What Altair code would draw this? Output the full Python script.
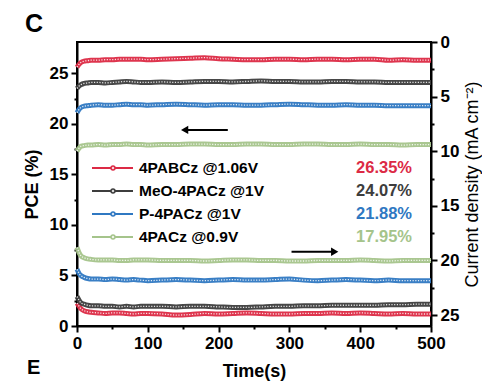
import altair as alt
import pandas as pd

# ---------------- data ----------------
time_s = [0, 3, 6, 10, 15, 20, 30, 40, 50, 60, 70, 80, 90, 100,
          120, 140, 160, 180, 200, 220, 240, 260, 280, 300,
          320, 340, 360, 380, 400, 420, 440, 460, 480, 500]

series = ["4PABCz @1.06V", "MeO-4PACz @1V", "P-4PACz @1V", "4PACz @0.9V"]
final_pce = ["26.35%", "24.07%", "21.88%", "17.95%"]
colors = ["#dc2a45", "#3d3d3d", "#2f78c2", "#a5c48b"]

# PCE (%) – left axis
pce_red = [25.6, 25.9, 26.1, 26.2, 26.25, 26.3, 26.3, 26.35, 26.35, 26.4, 26.4, 26.4, 26.4, 26.35,
           26.4, 26.45, 26.5, 26.55, 26.45, 26.4, 26.35, 26.35, 26.4, 26.4,
           26.35, 26.4, 26.4, 26.35, 26.4, 26.4, 26.3, 26.35, 26.3, 26.3]
pce_black = [23.5, 23.75, 23.9, 24.0, 24.05, 24.1, 24.1, 24.05, 24.1, 24.15, 24.2, 24.15, 24.1, 24.1,
             24.15, 24.1, 24.15, 24.2, 24.2, 24.15, 24.2, 24.25, 24.2, 24.2,
             24.15, 24.15, 24.2, 24.2, 24.15, 24.15, 24.1, 24.1, 24.1, 24.1]
pce_blue = [21.1, 21.45, 21.65, 21.75, 21.8, 21.85, 21.9, 21.85, 21.85, 21.9, 21.95, 21.9, 21.9, 21.85,
            21.9, 21.95, 21.9, 21.85, 21.9, 21.9, 21.85, 21.85, 21.9, 21.95,
            21.9, 21.85, 21.85, 21.9, 21.85, 21.85, 21.8, 21.8, 21.8, 21.8]
pce_green = [17.3, 17.6, 17.8, 17.85, 17.9, 17.9, 17.95, 17.9, 17.95, 17.95, 18.0, 17.95, 17.95, 17.9,
             17.95, 17.95, 18.0, 18.0, 17.95, 17.95, 18.0, 18.0, 17.95, 17.95,
             18.0, 18.0, 17.95, 17.95, 18.0, 17.95, 17.95, 17.9, 17.95, 17.95]

# Current density (mA cm-2) – right axis (reversed)
cd_red = [23.9, 24.2, 24.45, 24.6, 24.7, 24.75, 24.8, 24.85, 24.8, 24.8, 24.85, 24.9, 24.85, 24.85,
          24.9, 25.0, 24.95, 24.85, 24.9, 24.85, 24.8, 24.85, 24.9, 24.9,
          24.85, 24.85, 24.8, 24.85, 24.8, 24.85, 24.9, 24.85, 24.9, 24.9]
cd_black = [23.3, 23.65, 23.9, 24.0, 24.1, 24.15, 24.15, 24.2, 24.2, 24.25, 24.2, 24.25, 24.2, 24.2,
            24.2, 24.25, 24.2, 24.2, 24.25, 24.3, 24.3, 24.25, 24.2, 24.2,
            24.15, 24.15, 24.1, 24.1, 24.1, 24.1, 24.05, 24.05, 24.0, 24.0]
cd_blue = [20.8, 21.2, 21.4, 21.55, 21.65, 21.7, 21.7, 21.75, 21.7, 21.75, 21.8, 21.75, 21.8, 21.85,
           21.8, 21.75, 21.8, 21.85, 21.8, 21.75, 21.8, 21.8, 21.75, 21.7,
           21.8, 21.85, 21.8, 21.75, 21.8, 21.85, 21.8, 21.85, 21.85, 21.85]
cd_green = [18.8, 19.3, 19.6, 19.75, 19.85, 19.9, 19.95, 19.95, 19.95, 20.0, 20.0, 19.95, 19.95, 19.95,
            20.0, 20.0, 20.0, 20.05, 20.0, 19.95, 19.95, 20.0, 20.0, 20.05,
            20.05, 20.0, 20.0, 20.0, 19.95, 20.0, 20.05, 20.0, 20.0, 20.0]

# annotation arrows (data units)
arrow_pce_time = [152, 213]
arrow_pce_level = 19.4
arrow_cd_time = [303, 364]
arrow_cd_level = 19.2

pce_all = [pce_red, pce_black, pce_blue, pce_green]
cd_all = [cd_red, cd_black, cd_blue, cd_green]

rows = []
for name, pv, cv in zip(series, pce_all, cd_all):
    for t, p, c in zip(time_s, pv, cv):
        rows.append({"t": t, "series": name, "pce": p, "cd": c})
df = pd.DataFrame(rows)

legend_df = pd.DataFrame({"series": series, "pct": final_pce, "row": list(range(len(series)))})

arrow_pce_df = pd.DataFrame({"t": arrow_pce_time, "pce": [arrow_pce_level] * 2})
arrow_cd_df = pd.DataFrame({"t": arrow_cd_time, "cd": [arrow_cd_level] * 2})

# ---------------- encodings ----------------
FONT = "Liberation Sans"
color = alt.Color("series:N", scale=alt.Scale(domain=series, range=colors), legend=None)

X = alt.X(
    "t:Q",
    scale=alt.Scale(domain=[0, 500], nice=False, zero=False),
    axis=alt.Axis(
        values=list(range(0, 501, 50)),
        labelExpr="datum.value % 100 === 0 ? datum.label : ''",
        tickSize={"condition": {"test": "datum.value % 100 === 0", "value": 6}, "value": 3},
        title="Time(s)",
        titleY=45,
        titleBaseline="middle",
    ),
)

half_ticks = [i * 2.5 for i in range(11)]

Y_pce = alt.Y(
    "pce:Q",
    scale=alt.Scale(domain=[0, 28.1], nice=False, zero=False),
    axis=alt.Axis(
        orient="left",
        values=half_ticks,
        labelExpr="datum.value % 5 === 0 ? datum.label : ''",
        tickSize={"condition": {"test": "datum.value % 5 === 0", "value": 6}, "value": 3},
        title="PCE (%)",
        titleX=-45,
        titleY=142,
        titleAngle=270,
        titleAlign="center",
        titleBaseline="middle",
    ),
)

Y_cd = alt.Y(
    "cd:Q",
    scale=alt.Scale(domain=[0, 26], nice=False, zero=False, reverse=True),
    axis=alt.Axis(
        orient="right",
        values=half_ticks,
        labelExpr="datum.value % 5 === 0 ? datum.label : ''",
        tickSize={"condition": {"test": "datum.value % 5 === 0", "value": 6}, "value": 3},
        title="Current density (mA cm⁻²)",
        titleX=41,
        titleY=142,
        titleAngle=270,
        titleAlign="center",
        titleBaseline="middle",
        titleFontWeight="normal",
    ),
)

base = alt.Chart(df)

# PCE group
pce_band = base.mark_line(strokeWidth=5, interpolate="monotone", opacity=0.95).encode(
    x=X, y=Y_pce, color=color, detail="series:N")
pce_dots = base.mark_line(strokeWidth=1.3, interpolate="monotone", color="white",
                          strokeDash=[1.2, 1.5], opacity=0.85).encode(
    x=X, y=Y_pce, detail="series:N")
pce_arrow_line = alt.Chart(arrow_pce_df).mark_line(color="black", strokeWidth=2).encode(x=X, y=Y_pce)
pce_arrow_head = alt.Chart(arrow_pce_df).transform_filter("datum.t < 180").mark_point(
    shape="triangle-left", filled=True, color="black", size=70, opacity=1).encode(x=X, y=Y_pce)
pce_layer = alt.layer(pce_band, pce_dots, pce_arrow_line, pce_arrow_head)

# Current density group
cd_band = base.mark_line(strokeWidth=5, interpolate="monotone", opacity=0.95).encode(
    x=X, y=Y_cd, color=color, detail="series:N")
cd_dots = base.mark_line(strokeWidth=1.3, interpolate="monotone", color="white",
                         strokeDash=[1.2, 1.5], opacity=0.85).encode(
    x=X, y=Y_cd, detail="series:N")
cd_arrow_line = alt.Chart(arrow_cd_df).mark_line(color="black", strokeWidth=2).encode(x=X, y=Y_cd)
cd_arrow_head = alt.Chart(arrow_cd_df).transform_filter("datum.t > 330").mark_point(
    shape="triangle-right", filled=True, color="black", size=70, opacity=1).encode(x=X, y=Y_cd)
cd_layer = alt.layer(cd_band, cd_dots, cd_arrow_line, cd_arrow_head)

# Legend (manual, inside the plot)
Y_row = alt.Y("row:Q", scale=alt.Scale(domain=[0, 3], range=[126, 195]), axis=None)
leg = alt.Chart(legend_df)
leg_line = leg.mark_rule(strokeWidth=2).encode(
    x=alt.value(15), x2=alt.value(56), y=Y_row, color=color)
leg_dot = leg.mark_point(shape="circle", filled=True, size=30, opacity=1).encode(
    x=alt.value(36), y=Y_row, color=color)
leg_dot_c = leg.mark_point(shape="circle", filled=True, size=6, opacity=0.8, color="white").encode(
    x=alt.value(36), y=Y_row)
leg_text = leg.mark_text(align="left", baseline="middle", font=FONT, fontWeight="bold",
                         fontSize=15.5, color="black").encode(
    x=alt.value(62), y=Y_row, text="series:N")
leg_pct = leg.mark_text(align="right", baseline="middle", font=FONT, fontWeight="bold",
                        fontSize=16.5).encode(
    x=alt.value(335), y=Y_row, text="pct:N", color=color)

panel_df = pd.DataFrame({"label": ["C"]})
panel_c = alt.Chart(panel_df).mark_text(align="left", baseline="alphabetic", font=FONT,
                                        fontWeight="bold", fontSize=25, color="black").encode(
    x=alt.value(-52), y=alt.value(-10), text="label:N")
panel_e_df = pd.DataFrame({"label": ["E"]})
panel_e = alt.Chart(panel_e_df).mark_text(align="left", baseline="alphabetic", font=FONT,
                                          fontWeight="bold", fontSize=20, color="black").encode(
    x=alt.value(-50), y=alt.value(332), text="label:N")

legend_layer = alt.layer(leg_line, leg_dot, leg_dot_c, leg_text, leg_pct, panel_c, panel_e)

chart = (
    alt.layer(pce_layer, cd_layer, legend_layer)
    .resolve_scale(y="independent")
    .properties(
        width=354,
        height=284,
        autosize=alt.AutoSizeParams(type="none"),
        padding={"left": 69, "top": 34, "right": 51, "bottom": 56},
    )
    .configure_view(stroke="black", strokeWidth=2)
    .configure_axis(
        domainColor="black",
        domainWidth=2,
        tickColor="black",
        tickWidth=2,
        grid=False,
        labelFont=FONT,
        labelFontWeight="bold",
        labelFontSize=17,
        labelColor="black",
        labelPadding=3,
        labelFlush=False,
        labelOverlap=False,
        titleFont=FONT,
        titleFontWeight="bold",
        titleFontSize=18,
        titleColor="black",
    )
)

chart.save("out.html", embed_options={"renderer": "svg", "actions": False})
